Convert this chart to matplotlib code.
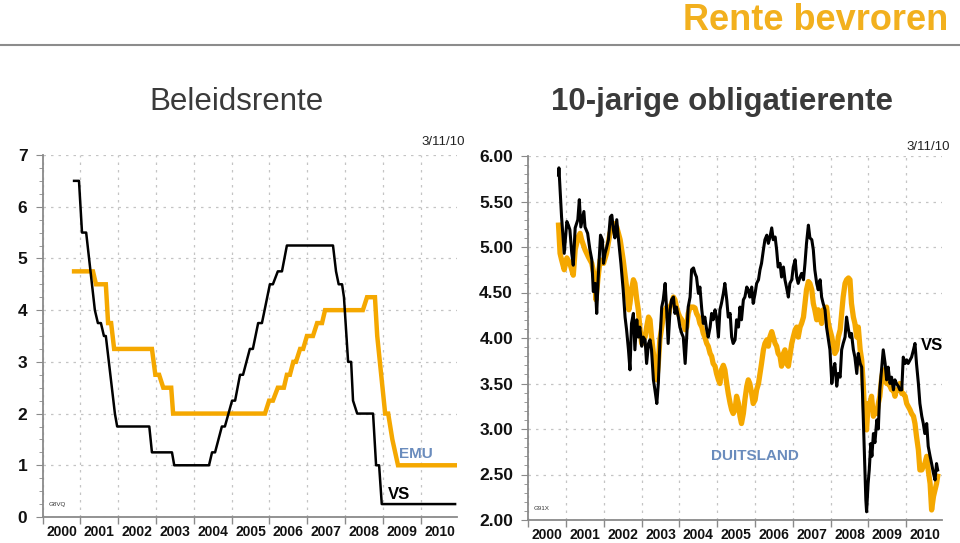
import matplotlib
matplotlib.use("Agg")
import matplotlib.pyplot as plt
from matplotlib.ticker import MultipleLocator, FixedLocator, NullFormatter

plt.rcParams['font.family'] = ['Liberation Sans', 'DejaVu Sans']

# --- Beleidsrente (policy rates), vertices ---
vs_pol_x = [2000.83, 2000.96, 2001.04, 2001.15, 2001.38, 2001.46, 2001.54, 2001.62, 2001.67,
            2001.91, 2001.97, 2002.82, 2002.89, 2003.42, 2003.48, 2004.40, 2004.48, 2004.56,
            2004.74, 2004.82, 2005.01, 2005.09, 2005.22, 2005.30, 2005.48, 2005.56, 2005.70,
            2005.80, 2006.01, 2006.09, 2006.22, 2006.33, 2006.46, 2007.68, 2007.76, 2007.83,
            2007.92, 2007.97, 2008.08, 2008.16, 2008.21, 2008.32, 2008.74, 2008.82, 2008.90,
            2008.97, 2010.91]
vs_pol_y = [6.5, 6.5, 5.5, 5.5, 4.0, 3.75, 3.75, 3.5, 3.5,
            2.0, 1.75, 1.75, 1.25, 1.25, 1.0, 1.0, 1.25, 1.25,
            1.75, 1.75, 2.25, 2.25, 2.75, 2.75, 3.25, 3.25, 3.75,
            3.75, 4.5, 4.5, 4.75, 4.75, 5.25, 5.25, 4.75, 4.5,
            4.5, 4.25, 3.0, 3.0, 2.25, 2.0, 2.0, 1.0, 1.0,
            0.25, 0.25]

emu_pol_x = [2000.83, 2001.33, 2001.41, 2001.67, 2001.73, 2001.81, 2001.89, 2002.89, 2002.98,
             2003.08, 2003.19, 2003.40, 2003.45, 2005.88, 2005.99, 2006.09, 2006.22, 2006.38,
             2006.46, 2006.54, 2006.63, 2006.70, 2006.81, 2006.89, 2006.99, 2007.15, 2007.26,
             2007.39, 2007.47, 2008.47, 2008.58, 2008.79, 2008.85, 2009.06, 2009.14, 2009.25,
             2009.40, 2010.91]
emu_pol_y = [4.75, 4.75, 4.5, 4.5, 3.75, 3.75, 3.25, 3.25, 2.75,
             2.75, 2.5, 2.5, 2.0, 2.0, 2.25, 2.25, 2.5, 2.5,
             2.75, 2.75, 3.0, 3.0, 3.25, 3.25, 3.5, 3.5, 3.75,
             3.75, 4.0, 4.0, 4.25, 4.25, 3.5, 2.0, 2.0, 1.5,
             1.0, 1.0]

# --- 10-jarige obligatierente ---
vs_10_x = [2000.80, 2000.81, 2000.88, 2000.95, 2001.02, 2001.06, 2001.10, 2001.15, 2001.19, 2001.24,
           2001.31, 2001.35, 2001.39, 2001.47, 2001.50, 2001.57, 2001.63, 2001.68, 2001.72, 2001.77,
           2001.81, 2001.85, 2001.91, 2001.96, 2001.99, 2002.03, 2002.07, 2002.12, 2002.17, 2002.21,
           2002.25, 2002.29, 2002.34, 2002.38, 2002.45, 2002.51, 2002.56, 2002.60, 2002.65,
           2002.69, 2002.73, 2002.78, 2002.82, 2002.87, 2002.91, 2002.95, 2003.00, 2003.04, 2003.09,
           2003.13, 2003.18, 2003.22, 2003.26, 2003.31, 2003.35, 2003.40, 2003.44, 2003.48, 2003.53,
           2003.57, 2003.62, 2003.66, 2003.70, 2003.75, 2003.79, 2003.84, 2003.88, 2003.92, 2003.97,
           2004.01, 2004.06, 2004.10, 2004.15, 2004.19, 2004.23, 2004.28, 2004.32, 2004.37, 2004.41,
           2004.45, 2004.50, 2004.54, 2004.59, 2004.63, 2004.67, 2004.72, 2004.76, 2004.81, 2004.85,
           2004.89, 2004.94, 2004.98, 2005.03, 2005.07, 2005.11, 2005.16, 2005.20, 2005.25, 2005.29,
           2005.34, 2005.38, 2005.42,
           2005.47, 2005.51, 2005.56, 2005.60, 2005.64, 2005.69, 2005.73, 2005.78, 2005.82, 2005.86,
           2005.91, 2005.95, 2006.00, 2006.04, 2006.09, 2006.13, 2006.17, 2006.22, 2006.26, 2006.31,
           2006.35, 2006.39, 2006.44, 2006.48, 2006.53, 2006.57, 2006.61, 2006.66, 2006.70, 2006.75,
           2006.79, 2006.83, 2006.88, 2006.92, 2006.97, 2007.01, 2007.06, 2007.10, 2007.14, 2007.19,
           2007.23, 2007.28, 2007.32, 2007.36, 2007.41, 2007.45, 2007.50, 2007.54, 2007.58, 2007.63,
           2007.67, 2007.72, 2007.76, 2007.80, 2007.85, 2007.89, 2007.94, 2007.98, 2008.03, 2008.07,
           2008.11, 2008.16, 2008.20,
           2008.25, 2008.29, 2008.33, 2008.38, 2008.42, 2008.47, 2008.51, 2008.55, 2008.60, 2008.64,
           2008.69, 2008.73, 2008.78, 2008.82, 2008.86, 2008.89, 2008.93, 2008.95, 2008.99, 2009.02,
           2009.06, 2009.09, 2009.13, 2009.17, 2009.22, 2009.26, 2009.30, 2009.35, 2009.39, 2009.44,
           2009.48, 2009.52, 2009.57, 2009.61, 2009.66, 2009.70, 2009.74, 2009.79, 2009.83, 2009.88,
           2009.92, 2009.97, 2010.01, 2010.05, 2010.10, 2010.14, 2010.19, 2010.23, 2010.27, 2010.32,
           2010.36, 2010.41, 2010.45, 2010.49, 2010.54, 2010.58, 2010.63, 2010.67, 2010.72, 2010.76,
           2010.80, 2010.83]
vs_10_y = [5.79, 5.87, 5.33, 4.93, 5.28, 5.24, 5.19, 4.93, 4.80, 5.21,
           5.30, 5.52, 5.22, 5.39, 5.22, 5.15, 4.97, 4.86, 4.51, 4.60,
           4.27, 4.67, 5.13, 5.08, 4.82, 4.93, 4.99, 5.08, 5.33, 5.35,
           5.19, 5.10, 5.30, 5.11, 4.82, 4.53, 4.23, 4.09, 3.87,
           3.65, 4.16, 4.27, 3.87, 4.20, 4.01, 4.12, 3.91, 4.01, 3.98,
           3.72, 3.94, 3.98, 3.87, 3.54, 3.43, 3.28, 3.50, 3.94, 4.34,
           4.42, 4.60, 4.31, 3.94, 4.31, 4.42, 4.45, 4.27, 4.34, 4.23,
           4.12, 4.05, 4.01, 3.72, 4.01, 4.34, 4.45, 4.75, 4.77, 4.71,
           4.67, 4.49, 4.56, 4.31, 4.16, 4.23, 4.09, 4.01, 4.12, 4.27,
           4.20, 4.31, 4.23, 4.01, 4.31, 4.38, 4.49, 4.60, 4.42, 4.23,
           4.27, 4.01, 3.94,
           3.98, 4.20, 4.12, 4.34, 4.20, 4.42, 4.45, 4.56, 4.53, 4.45,
           4.56, 4.38, 4.49, 4.60, 4.64, 4.75, 4.82, 4.97, 5.08, 5.13,
           5.04, 5.10, 5.21, 5.08, 5.11, 4.97, 4.78, 4.82, 4.67, 4.78,
           4.64, 4.56, 4.45, 4.60, 4.64, 4.78, 4.86, 4.67, 4.60, 4.67,
           4.71, 4.64, 4.82, 5.04, 5.24, 5.10, 5.08, 4.97, 4.75, 4.60,
           4.53, 4.64, 4.45, 4.38, 4.31, 4.12, 3.98, 3.87, 3.50, 3.65,
           3.72, 3.47, 3.61,
           3.57, 3.87, 3.94, 4.01, 4.23, 4.09, 4.01, 4.05, 3.87, 3.79,
           3.61, 3.83, 3.72, 3.68, 3.14, 2.73, 2.22, 2.09, 2.40, 2.55,
           2.84, 2.70, 2.95, 2.85, 3.10, 3.00, 3.43, 3.68, 3.87, 3.72,
           3.54, 3.68, 3.50, 3.57, 3.43, 3.54, 3.50, 3.47, 3.43, 3.43,
           3.79, 3.72, 3.76, 3.72, 3.76, 3.79, 3.87, 3.94, 3.72, 3.50,
           3.28, 3.14, 3.06, 2.95, 3.06, 2.81, 2.70, 2.62, 2.51, 2.44,
           2.62, 2.55]

de_10_x = [2000.80, 2000.84, 2000.88, 2000.95, 2001.02, 2001.10, 2001.19, 2001.24, 2001.32, 2001.37,
           2001.41, 2001.50, 2001.59, 2001.68, 2001.75, 2001.79, 2001.84, 2001.90, 2001.99, 2002.07,
           2002.16, 2002.25, 2002.34, 2002.43, 2002.51, 2002.60, 2002.66,
           2002.69, 2002.73, 2002.78, 2002.82, 2002.87, 2002.91, 2002.95, 2003.00, 2003.04, 2003.09,
           2003.13, 2003.18, 2003.22, 2003.26, 2003.31, 2003.35, 2003.40, 2003.44, 2003.48, 2003.53,
           2003.57, 2003.62, 2003.66, 2003.70, 2003.75, 2003.79, 2003.84, 2003.88, 2003.92, 2003.97,
           2004.01, 2004.06, 2004.10, 2004.15, 2004.19, 2004.23, 2004.28, 2004.32, 2004.37, 2004.41,
           2004.45, 2004.50, 2004.54, 2004.59, 2004.63, 2004.67, 2004.72, 2004.76, 2004.81, 2004.85,
           2004.89, 2004.94, 2004.98, 2005.03, 2005.07, 2005.11, 2005.16, 2005.20, 2005.25, 2005.29,
           2005.34, 2005.38, 2005.42,
           2005.47, 2005.51, 2005.56, 2005.60, 2005.64, 2005.69, 2005.73, 2005.78, 2005.82, 2005.86,
           2005.91, 2005.95, 2006.00, 2006.04, 2006.09, 2006.13, 2006.17, 2006.22, 2006.26, 2006.31,
           2006.35, 2006.39, 2006.44, 2006.48, 2006.53, 2006.57, 2006.61, 2006.66, 2006.70, 2006.75,
           2006.79, 2006.83, 2006.88, 2006.92, 2006.97, 2007.01, 2007.06, 2007.10, 2007.14, 2007.19,
           2007.23, 2007.28, 2007.32, 2007.36, 2007.41, 2007.45, 2007.50, 2007.54, 2007.58, 2007.63,
           2007.67, 2007.72, 2007.76, 2007.80, 2007.85, 2007.89, 2007.94, 2007.98, 2008.03, 2008.07,
           2008.11, 2008.16, 2008.20,
           2008.25, 2008.29, 2008.33, 2008.38, 2008.42, 2008.47, 2008.51, 2008.55, 2008.60, 2008.64,
           2008.69, 2008.73, 2008.78, 2008.82, 2008.86, 2008.91, 2008.95, 2008.99, 2009.04, 2009.08,
           2009.13, 2009.17, 2009.22, 2009.26, 2009.30, 2009.35, 2009.39, 2009.44, 2009.48, 2009.52,
           2009.57, 2009.61, 2009.66, 2009.70, 2009.74, 2009.79, 2009.83, 2009.88, 2009.92, 2009.97,
           2010.01, 2010.05, 2010.10, 2010.14, 2010.19, 2010.23, 2010.27, 2010.32, 2010.36, 2010.41,
           2010.45, 2010.49, 2010.54, 2010.58, 2010.63, 2010.67, 2010.72, 2010.76, 2010.80, 2010.83]
de_10_y = [5.24, 4.93, 4.86, 4.75, 4.88, 4.82, 4.69, 4.97, 5.11, 5.15,
           5.08, 4.97, 4.89, 4.82, 4.67, 4.42, 4.64, 4.86, 4.82, 4.93,
           5.15, 5.26, 5.22, 5.08, 4.86, 4.56, 4.31,
           4.38, 4.53, 4.64, 4.60, 4.42, 4.31, 4.12, 3.94, 3.98, 4.01,
           4.12, 4.23, 4.20, 4.01, 3.83, 3.65, 3.54, 3.72, 3.98, 4.12,
           4.23, 4.31, 4.34, 4.23, 4.34, 4.38, 4.45, 4.42, 4.34, 4.27,
           4.23, 4.20, 4.16, 4.09, 4.12, 4.27, 4.34, 4.34, 4.34, 4.33,
           4.27, 4.23, 4.16, 4.12, 4.05, 4.01, 3.94, 3.91, 3.83, 3.80,
           3.72, 3.69, 3.61, 3.54, 3.50, 3.65, 3.70, 3.65, 3.50, 3.39,
           3.28, 3.21, 3.17,
           3.21, 3.36, 3.28, 3.14, 3.06, 3.17, 3.32, 3.47, 3.54, 3.50,
           3.39, 3.28, 3.32, 3.43, 3.50, 3.61, 3.72, 3.87, 3.94, 3.98,
           3.91, 4.01, 4.07, 4.01, 3.94, 3.91, 3.83, 3.80, 3.69, 3.83,
           3.87, 3.72, 3.69, 3.80, 3.94, 4.01, 4.09, 4.12, 4.01, 4.12,
           4.16, 4.23, 4.38, 4.53, 4.62, 4.60, 4.53, 4.38, 4.31, 4.20,
           4.31, 4.23, 4.16, 4.31, 4.23, 4.34, 4.16, 4.09, 4.01, 3.91,
           3.83, 3.87, 4.01,
           4.09, 4.27, 4.45, 4.60, 4.64, 4.66, 4.64, 4.38, 4.23, 4.16,
           4.01, 4.12, 3.87, 3.76, 3.50, 3.06, 2.99, 3.28, 3.28, 3.36,
           3.14, 3.21, 3.17, 3.28, 3.36, 3.57, 3.65, 3.54, 3.50, 3.50,
           3.47, 3.43, 3.43, 3.36, 3.43, 3.43, 3.50, 3.39, 3.39, 3.36,
           3.28, 3.25, 3.21, 3.17, 3.14, 3.06, 2.92, 2.77, 2.55, 2.55,
           2.59, 2.62, 2.70, 2.55, 2.40, 2.11, 2.26, 2.33, 2.40, 2.48]

years = list(range(2000, 2011))
year_labels = [str(y) for y in years]

ORANGE = '#F5A800'
BLUE = '#6A8CBD'
GRID = '#c4c4c4'
AXIS = '#8a8a8a'

W, H = 960, 543
fig = plt.figure(figsize=(9.6, 5.43), dpi=100)


def px_axes(x0, y0, x1, y1):
    # rectangle in pixel coords (top-left origin)
    return fig.add_axes([x0 / W, 1 - y1 / H, (x1 - x0) / W, (y1 - y0) / H])


def style_axes(ax, ylo, yhi, ymajor, yminor, fmt):
    ax.set_xlim(2000, 2010.95)
    ax.set_ylim(ylo, yhi)
    for s in ['top', 'right']:
        ax.spines[s].set_visible(False)
    for s in ['left', 'bottom']:
        ax.spines[s].set_color(AXIS)
        ax.spines[s].set_linewidth(1.3)
    ax.xaxis.set_major_locator(FixedLocator(years))
    ax.xaxis.set_major_formatter(NullFormatter())
    ax.xaxis.set_minor_locator(FixedLocator([y + 0.5 for y in years]))
    ax.set_xticklabels(year_labels, minor=True)
    ax.tick_params(axis='x', which='major', length=5, color=AXIS, width=1)
    ax.tick_params(axis='x', which='minor', length=0, pad=6, labelsize=10)
    ax.yaxis.set_major_locator(MultipleLocator(ymajor))
    ax.yaxis.set_minor_locator(MultipleLocator(yminor))
    ax.yaxis.set_major_formatter(plt.FuncFormatter(lambda v, p: fmt.format(v)))
    ax.tick_params(axis='y', which='major', length=5, color=AXIS, labelsize=12.5, pad=6)
    ax.tick_params(axis='y', which='minor', length=3, color=AXIS)
    for lab in ax.get_xticklabels(minor=True) + ax.get_yticklabels():
        lab.set_fontweight('bold')
        lab.set_color('#111111')
    ax.grid(True, which='major', color=GRID, linestyle=(0, (2, 4)), linewidth=0.9)
    ax.set_axisbelow(True)
    ax.patch.set_alpha(0)


# left: Beleidsrente
ax1 = px_axes(42.7, 155, 456.6, 517)
style_axes(ax1, 0, 7, 1, 0.25, '{:.0f}')
ax1.plot(emu_pol_x, emu_pol_y, color=ORANGE, lw=3.2, solid_joinstyle='miter')
ax1.plot(vs_pol_x, vs_pol_y, color='black', lw=1.8)
ax1.text(2009.88, 1.08, 'EMU', color=BLUE, fontsize=11, fontweight='bold', ha='center', va='bottom')
ax1.text(2009.43, 0.43, 'VS', color='black', fontsize=12, fontweight='bold', ha='center', va='center')
ax1.text(2000.15, 0.2, 'G8VQ', fontsize=4.5, color='#333333', ha='left', va='bottom')

# right: 10-jarige obligatierente
ax2 = px_axes(528.3, 156, 942.2, 520)
style_axes(ax2, 2, 6, 0.5, 0.1, '{:.2f}')
ax2.plot(de_10_x, de_10_y, color=ORANGE, lw=3.8)
ax2.plot(vs_10_x, vs_10_y, color='black', lw=2.2)
ax2.text(2006.0, 2.7, 'DUITSLAND', color=BLUE, fontsize=11, fontweight='bold', ha='center', va='center')
ax2.text(2010.68, 3.92, 'VS', color='black', fontsize=12, fontweight='bold', ha='center', va='center')
ax2.text(2000.15, 2.1, 'G91X', fontsize=4.5, color='#333333', ha='left', va='bottom')

# header
fig.text(948 / W, 1 - 30 / H, 'Rente bevroren', color='#F2B01E', fontsize=26,
         fontweight='bold', ha='right', va='baseline')
fig.add_artist(plt.Line2D([0, 1], [1 - 45 / H, 1 - 45 / H], color='#8c8c8c', lw=1.5))
fig.text(237 / W, 1 - 110 / H, 'Beleidsrente', color='#3a3a3a', fontsize=22.5, ha='center', va='baseline')
fig.text(722 / W, 1 - 110 / H, '10-jarige obligatierente', color='#3a3a3a', fontsize=22.5,
         fontweight='bold', ha='center', va='baseline')
fig.text(465 / W, 1 - 142 / H, '3/11/10', color='#222222', fontsize=9.5, ha='right', va='center')
fig.text(950 / W, 1 - 147 / H, '3/11/10', color='#222222', fontsize=9.5, ha='right', va='center')

fig.savefig('out.png', dpi=100)
